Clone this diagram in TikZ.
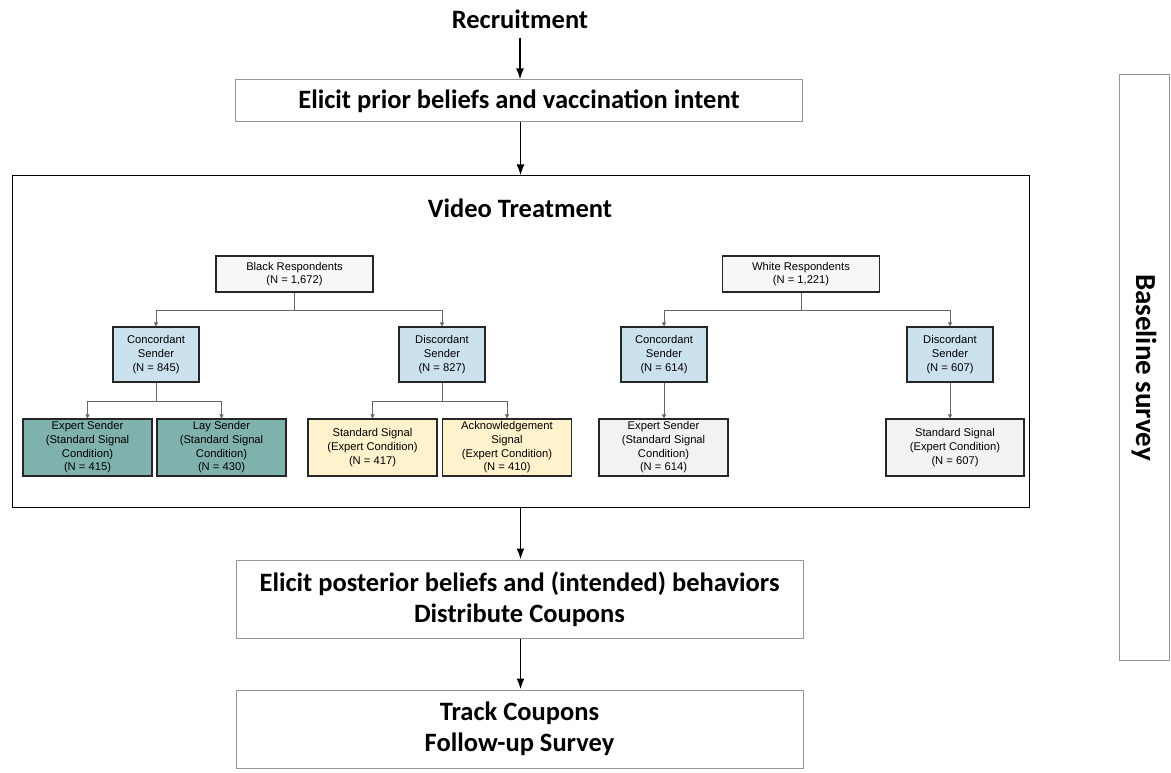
\documentclass[tikz,border=0pt]{standalone}
\usepackage{fontspec}
\setmainfont{Liberation Sans}
\newfontfamily\headfont{Carlito}
\usetikzlibrary{positioning, arrows.meta, calc}
\definecolor{respgray}{RGB}{247,247,247}
\definecolor{senderblue}{RGB}{204,225,238}
\definecolor{tealleaf}{RGB}{127,178,172}
\definecolor{creamleaf}{RGB}{255,242,204}
\definecolor{greyleaf}{RGB}{242,242,242}
\definecolor{boxline}{RGB}{150,150,150}

\begin{document}
\begin{tikzpicture}[
    x=1pt, y=-1pt,
    headtext/.style={font=\headfont\bfseries\fontsize{26.5}{31}\selectfont, align=center},
    mainbox/.style={headtext, rectangle, draw=boxline, line width=1pt, fill=white, minimum width=567pt, inner sep=0pt},
    framebox/.style={rectangle, draw=black, line width=1pt, minimum width=1017pt, minimum height=331pt},
    sidebox/.style={rectangle, draw=boxline, line width=1pt, minimum width=585pt, minimum height=50pt, inner sep=0pt, font=\headfont\bfseries\fontsize{29}{34}\selectfont},
    treebox/.style={rectangle, draw=black!85, line width=1.1pt, align=center, inner sep=1pt, font=\fontsize{11.2}{13.7}\selectfont},
    respbox/.style={treebox, fill=respgray, minimum width=157pt, minimum height=36pt},
    senderbox/.style={treebox, fill=senderblue, minimum width=86pt, minimum height=55pt},
    expleaf/.style={treebox, fill=tealleaf, minimum width=129pt, minimum height=57pt},
    sigleaf/.style={treebox, fill=creamleaf, minimum width=129pt, minimum height=57pt},
    whiteleaf/.style={treebox, fill=greyleaf, minimum width=129pt, minimum height=57pt},
    arr/.style={-{Latex[length=11pt, width=8pt]}, line width=1.8pt, draw=black},
    tarr/.style={-{Triangle[length=4pt, width=4pt]}, line width=0.8pt, draw=black!60}
]
    \useasboundingbox (0,0) rectangle (1171,773);

    % main flow
    \node[headtext, inner sep=9pt] (rec) at (520,19) {Recruitment};
    \node[mainbox, minimum height=42pt] (prior) at (519,101) {Elicit prior beliefs and vaccination intent};
    \node[framebox] (vid) at (520.5,341.5) {};
    \node[headtext] (vidtitle) at (520,208) {Video Treatment};
    \node[mainbox, minimum height=78pt] (post) at (519.5,599) {Elicit posterior beliefs and (intended) behaviors\\Distribute Coupons};
    \node[mainbox, minimum height=78pt] (track) at (519.5,729) {Track Coupons\\Follow-up Survey};
    \node[sidebox, rotate=-90] (base) at (1144,367.5) {Baseline survey};

    \draw[arr] (rec.south) -- (rec.south |- prior.north);
    \draw[arr] (prior.south -| vid.north) -- (vid.north);
    \draw[arr] (vid.south) -- (vid.south |- post.north);
    \draw[arr] (post.south -| vid.south) -- (vid.south |- track.north);

    % black respondents
    \node[respbox] (bresp) at (294.5,274) {Black Respondents\\(N = 1,672)};
    \node[senderbox] (bconc) at (156,354.5) {Concordant\\Sender\\(N = 845)};
    \node[senderbox] (bdisc) at (442,354.5) {Discordant\\Sender\\(N = 827)};
    \node[expleaf] (bexp) at (87.5,447.5) {Expert Sender\\(Standard Signal\\Condition)\\(N = 415)};
    \node[expleaf] (blay) at (221.5,447.5) {Lay Sender\\(Standard Signal\\Condition)\\(N = 430)};
    \node[sigleaf] (bstd) at (372.5,447.5) {Standard Signal\\(Expert Condition)\\(N = 417)};
    \node[sigleaf] (back) at (507,447.5) {Acknowledgement\\Signal\\(Expert Condition)\\(N = 410)};

    % white respondents
    \node[respbox] (wresp) at (801,274) {White Respondents\\(N = 1,221)};
    \node[senderbox] (wconc) at (664,354.5) {Concordant\\Sender\\(N = 614)};
    \node[senderbox] (wdisc) at (950,354.5) {Discordant\\Sender\\(N = 607)};
    \node[whiteleaf] (wexp) at (663.5,447.5) {Expert Sender\\(Standard Signal\\Condition)\\(N = 614)};
    \node[whiteleaf, minimum width=138pt] (wstd) at (955,447.5) {Standard Signal\\(Expert Condition)\\(N = 607)};

    \draw[tarr] (bresp.south) -- ++(0,17.5) -| (bconc.north);
    \draw[tarr] (bresp.south) -- ++(0,17.5) -| (bdisc.north);
    \draw[tarr] (bconc.south) -- ++(0,18.5) -| (bexp.north);
    \draw[tarr] (bconc.south) -- ++(0,18.5) -| (blay.north);
    \draw[tarr] (bdisc.south) -- ++(0,18.5) -| (bstd.north);
    \draw[tarr] (bdisc.south) -- ++(0,18.5) -| (back.north);
    \draw[tarr] (wresp.south) -- ++(0,17.5) -| (wconc.north);
    \draw[tarr] (wresp.south) -- ++(0,17.5) -| (wdisc.north);
    \draw[tarr] (wconc.south) -- (wconc.south |- wexp.north);
    \draw[tarr] (wdisc.south) -- (wdisc.south |- wstd.north);
\end{tikzpicture}
\end{document}
